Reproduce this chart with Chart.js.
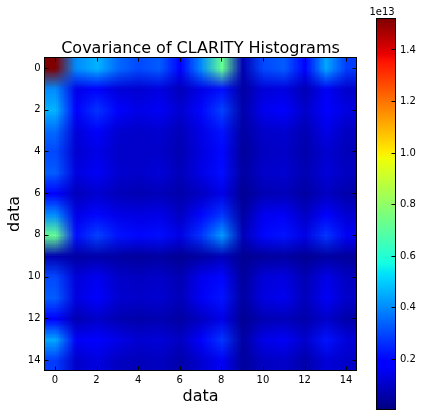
<!DOCTYPE html>
<html><head><meta charset="utf-8">
<style>html,body{margin:0;padding:0;background:#fff;width:422px;height:416px;overflow:hidden}canvas{position:absolute;top:0}</style>
<script src="https://cdn.jsdelivr.net/npm/chart.js@4"></script>
</head><body>
<canvas id="main" width="360" height="416" style="left:0;width:360px;height:416px"></canvas>
<canvas id="bar" width="62" height="416" style="left:360px;width:62px;height:416px"></canvas>
<script>
const titleText = "Covariance of CLARITY Histograms";
const xLabel = "data", yLabel = "data", offsetLabel = "1e13";
const categories = [0,1,2,3,4,5,6,7,8,9,10,11,12,13,14];
const axisTicks = [0,2,4,6,8,10,12,14];
const colorTicks = [0.2,0.4,0.6,0.8,1.0,1.2,1.4];
const colorMin = 0.003, colorMax = 1.52;
const row00=[1.52,.40,.46,.35,.30,.33,.18,.40,.72,.07,.30,.33,.19,.44,.28];
const row01=[.40,.14,.18,.12,.11,.13,.08,.14,.21,.05,.12,.13,.07,.16,.10];
const row02=[.46,.18,.27,.17,.14,.16,.11,.20,.29,.06,.15,.17,.10,.19,.13];
const row03=[.35,.12,.17,.11,.10,.11,.08,.14,.22,.05,.10,.11,.07,.14,.09];
const row04=[.30,.11,.14,.10,.10,.10,.07,.13,.20,.04,.09,.10,.06,.11,.08];
const row05=[.33,.13,.16,.11,.10,.12,.08,.14,.21,.05,.10,.11,.07,.12,.09];
const row06=[.18,.08,.11,.08,.07,.08,.06,.09,.14,.03,.07,.08,.05,.09,.06];
const row07=[.40,.14,.20,.14,.13,.14,.09,.20,.27,.05,.15,.16,.09,.18,.11];
const row08=[.72,.21,.29,.22,.20,.21,.14,.27,.42,.08,.20,.22,.14,.27,.16];
const row09=[.07,.05,.06,.05,.04,.05,.03,.05,.08,.03,.04,.05,.03,.05,.04];
const row10=[.30,.12,.15,.10,.09,.10,.07,.15,.20,.04,.12,.13,.07,.14,.09];
const row11=[.33,.13,.17,.11,.10,.11,.08,.16,.22,.05,.13,.15,.08,.16,.10];
const row12=[.19,.07,.10,.07,.06,.07,.05,.09,.14,.03,.07,.08,.06,.10,.06];
const row13=[.44,.16,.19,.14,.11,.12,.09,.18,.27,.05,.14,.16,.10,.22,.12];
const row14=[.28,.10,.13,.09,.08,.09,.06,.11,.16,.04,.09,.10,.06,.12,.10];
const rows=[row00,row01,row02,row03,row04,row05,row06,row07,row08,row09,row10,row11,row12,row13,row14];

const FONT='"DejaVu Sans"';
Chart.defaults.font.family=FONT;
Chart.defaults.color='#000';

const jetR=[[0,0],[.35,0],[.66,1],[.89,1],[1,.5]];
const jetG=[[0,0],[.125,0],[.375,1],[.64,1],[.91,0],[1,0]];
const jetB=[[0,.5],[.11,1],[.34,1],[.65,0],[1,0]];
function seg(s,t){for(let i=1;i<s.length;i++){if(t<=s[i][0]){const[a,b]=s[i-1],[c,d]=s[i];return b+(d-b)*(t-a)/(c-a);}}return s[s.length-1][1];}
function jet(v){const t=Math.min(1,Math.max(0,(v-colorMin)/(colorMax-colorMin)));return [seg(jetR,t),seg(jetG,t),seg(jetB,t)].map(c=>Math.round(c*255));}

const points=[];
rows.forEach((r,y)=>r.forEach((v,x)=>points.push({x:categories[x],y:categories[y],v})));

function inwardTicks(ctx,sc,a,side,len){
  sc.ticks.forEach(t=>{const p=Math.round(sc.getPixelForValue(t.value))+.5;ctx.beginPath();
    if(side==='bottom'){ctx.moveTo(p,a.bottom);ctx.lineTo(p,a.bottom-len);}
    if(side==='top'){ctx.moveTo(p,a.top);ctx.lineTo(p,a.top+len);}
    if(side==='left'){ctx.moveTo(a.left,p);ctx.lineTo(a.left+len,p);}
    if(side==='right'){ctx.moveTo(a.right,p);ctx.lineTo(a.right-len,p);}
    ctx.stroke();});
}
function frame(ctx,a){ctx.strokeStyle='#000';ctx.lineWidth=1;ctx.strokeRect(a.left,a.top,a.right-a.left,a.bottom-a.top);}

const heatPlugin={id:'heat',
  beforeDatasetsDraw(chart){
    const {ctx,scales:{x,y}}=chart,n=categories.length;
    const off=document.createElement('canvas');off.width=n;off.height=n;
    const oc=off.getContext('2d'),img=oc.createImageData(n,n);
    chart.data.datasets[0].data.forEach(p=>{const i=(p.y*n+p.x)*4,c=jet(p.v);img.data[i]=c[0];img.data[i+1]=c[1];img.data[i+2]=c[2];img.data[i+3]=255;});
    oc.putImageData(img,0,0);
    const x0=x.getPixelForValue(-.5),x1=x.getPixelForValue(14.5),y0=y.getPixelForValue(-.5),y1=y.getPixelForValue(14.5);
    ctx.save();ctx.imageSmoothingEnabled=true;ctx.imageSmoothingQuality='low';
    ctx.drawImage(off,x0,y0,x1-x0,y1-y0);ctx.restore();
  },
  afterDatasetsDraw(chart){
    const {ctx,chartArea:a,scales:{x,y}}=chart;ctx.save();frame(ctx,a);
    inwardTicks(ctx,x,a,'bottom',4);inwardTicks(ctx,x,a,'top',4);inwardTicks(ctx,y,a,'left',4);inwardTicks(ctx,y,a,'right',4);ctx.restore();
  }};

new Chart(document.getElementById('main'),{type:'scatter',
  data:{datasets:[{label:titleText,data:points,pointRadius:0,showLine:false}]},
  plugins:[heatPlugin],
  options:{responsive:false,animation:false,devicePixelRatio:1,
    layout:{padding:{left:0,right:3.5,top:0,bottom:0}},
    plugins:{legend:{display:false},tooltip:{enabled:false},
      title:{display:true,text:titleText,fullSize:false,color:'#000',font:{family:FONT,size:16,weight:'normal',lineHeight:1.2},padding:{top:38.8,bottom:-0.5}}},
    scales:{
      x:{type:'linear',position:'bottom',min:-.5,max:14.5,grid:{display:false,drawTicks:false},border:{display:false},
        afterBuildTicks:s=>{s.ticks=axisTicks.map(v=>({value:v}));},
        afterFit:s=>{s.height=45.5;},
        ticks:{autoSkip:false,maxRotation:0,padding:4,font:{size:10},callback:v=>String(v)},
        title:{display:true,text:xLabel,color:'#000',font:{size:16,lineHeight:1.2},padding:{top:0,bottom:10}}},
      y:{type:'linear',position:'left',reverse:true,min:-.5,max:14.5,grid:{display:false,drawTicks:false},border:{display:false},
        afterBuildTicks:s=>{s.ticks=axisTicks.map(v=>({value:v}));},
        afterFit:s=>{s.width=44.5;},
        ticks:{autoSkip:false,padding:4,labelOffset:0,font:{size:10},callback:v=>String(v)},
        title:{display:true,text:yLabel,color:'#000',font:{size:16,lineHeight:1.2},padding:{top:5,bottom:0}}}
    }}});

const cbPlugin={id:'cb',
  afterDatasetsDraw(chart){
    const {ctx,chartArea:a,scales:{y}}=chart;ctx.save();frame(ctx,a);inwardTicks(ctx,y,a,'right',4);
    ctx.fillStyle='#000';ctx.font='10px '+FONT;ctx.textAlign='center';ctx.textBaseline='alphabetic';
    ctx.fillText(offsetLabel,22,15);ctx.restore();
  }};
function barFill(c){
  const chart=c.chart,a=chart.chartArea;if(!a)return '#00f';
  const y=chart.scales.y,g=chart.ctx.createLinearGradient(0,y.getPixelForValue(colorMin),0,y.getPixelForValue(colorMax));
  const stops=[...jetR,...jetG,...jetB].map(s=>s[0]);
  [...new Set(stops)].sort((p,q)=>p-q).forEach(t=>{g.addColorStop(t,`rgb(${Math.round(seg(jetR,t)*255)},${Math.round(seg(jetG,t)*255)},${Math.round(seg(jetB,t)*255)})`);});
  return g;
}
new Chart(document.getElementById('bar'),{type:'bar',
  data:{labels:[offsetLabel],datasets:[{data:[[colorMin,colorMax]],backgroundColor:barFill,borderWidth:0,barPercentage:1,categoryPercentage:1}]},
  plugins:[cbPlugin],
  options:{responsive:false,animation:false,devicePixelRatio:1,
    layout:{padding:{left:16.5,right:0,top:18.5,bottom:6.5}},
    plugins:{legend:{display:false},tooltip:{enabled:false}},
    scales:{
      x:{display:false},
      y:{position:'right',min:colorMin,max:colorMax,grid:{display:false,drawTicks:false},border:{display:false},
        afterBuildTicks:s=>{s.ticks=colorTicks.map(v=>({value:v}));},
        afterFit:s=>{s.width=26.5;s.paddingTop=0;s.paddingBottom=0;},
        ticks:{autoSkip:false,padding:4.5,labelOffset:0.5,font:{size:10},callback:v=>v.toFixed(1)}}
    }}});
</script>
</body></html>
